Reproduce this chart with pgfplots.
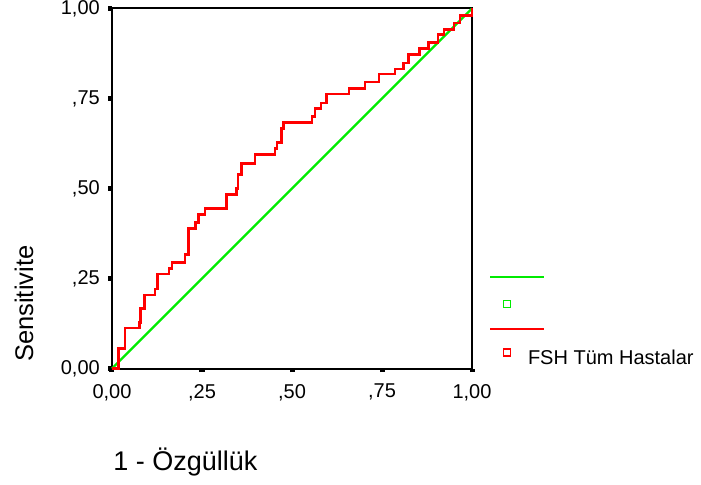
\documentclass[border=0pt]{standalone}
\usepackage{fontspec}
\setmainfont{Liberation Sans}
\usepackage{pgfplots}
\pgfplotsset{compat=1.18}
\usepackage{pgfplotstable}

\definecolor{refgreen}{RGB}{0,235,0}
\definecolor{rocred}{RGB}{255,0,0}

% ROC curve: 1 - specificity vs. sensitivity (corners of the staircase)
\pgfplotstableread{
fpr   tpr
0.000 0.000
0.018 0.056
0.036 0.112
0.076 0.127
0.079 0.167
0.091 0.204
0.119 0.221
0.126 0.262
0.158 0.278
0.167 0.295
0.203 0.317
0.212 0.389
0.232 0.405
0.241 0.428
0.258 0.445
0.318 0.484
0.346 0.500
0.350 0.539
0.360 0.570
0.397 0.595
0.453 0.611
0.458 0.628
0.471 0.667
0.476 0.684
0.555 0.700
0.564 0.723
0.580 0.738
0.596 0.762
0.658 0.778
0.703 0.796
0.742 0.818
0.786 0.832
0.809 0.849
0.823 0.873
0.854 0.889
0.879 0.905
0.906 0.928
0.922 0.942
0.950 0.960
0.967 0.981
1.000 1.000
}\roctable

% reference diagonal
\pgfplotstableread{
fpr tpr
0 0
1 1
}\diagtable

\begin{document}
\begin{tikzpicture}
\begin{axis}[
  at={(0,0)}, anchor=south west,
  scale only axis, width=360bp, height=360bp,
  xmin=0, xmax=1, ymin=0, ymax=1,
  clip=false,
  axis line style={line width=2bp, black},
  xtick={0,0.25,0.5,0.75,1},
  ytick={0,0.25,0.5,0.75,1},
  xticklabels={{0,00},{,25},{,50},{,75},{1,00}},
  yticklabels={{0,00},{,25},{,50},{,75},{1,00}},
  tick pos=left,
  tick align=outside,
  major tick length=3.5bp,
  tick style={line width=5bp, black},
  tick label style={font=\fontsize{20bp}{24bp}\selectfont, inner sep=0pt},
  xticklabel style={yshift=-12bp},
  yticklabel style={xshift=-8.5bp},
  xlabel={1 - Özgüllük},
  ylabel={Sensitivite},
  xlabel style={at={(axis description cs:0.003,-0.282)}, anchor=base west,
    inner sep=0pt, font=\fontsize{27bp}{32bp}\selectfont},
  ylabel style={at={(axis description cs:-0.2194,0.018)}, anchor=base west,
    inner sep=0pt, font=\fontsize{25.5bp}{30bp}\selectfont},
  legend cell align=left,
  legend style={at={(axis description cs:1,0)}, anchor=south west,
    xshift=18bp, yshift=0.2bp, draw=none, fill=none,
    inner sep=0pt, outer sep=0pt, row sep=5.8bp, column sep=8bp,
    font=\fontsize{20bp}{24bp}\selectfont,
    nodes={inner sep=0pt, text height=14bp, text depth=4bp}},
]
\addplot[refgreen, line width=2.2bp, forget plot] table[x=fpr, y=tpr] {\diagtable};
\addplot[rocred, line width=2.6bp, const plot, forget plot] table[x=fpr, y=tpr] {\roctable};

\addlegendimage{legend image code/.code={
  \draw[draw=refgreen, line width=2bp, overlay] (0bp,7.2bp) -- (54bp,7.2bp);
  \path[draw=none, fill=none] (0bp,-4bp) rectangle (30bp,10bp);}}
\addlegendentry{}
\addlegendimage{legend image code/.code={
  \draw[draw=refgreen, fill=none, line width=1.4bp] (13.5bp,0.9bp) rectangle (20.5bp,7.9bp);
  \path[draw=none, fill=none] (0bp,-4bp) rectangle (30bp,10bp);}}
\addlegendentry{}
\addlegendimage{legend image code/.code={
  \draw[draw=rocred, line width=2bp, overlay] (0bp,4.2bp) -- (54bp,4.2bp);
  \path[draw=none, fill=none] (0bp,-4bp) rectangle (30bp,10bp);}}
\addlegendentry{}
\addlegendimage{legend image code/.code={
  \draw[draw=rocred, fill=none, line width=1.4bp] (13.5bp,3.5bp) rectangle (20.5bp,10.5bp);
  \path[draw=none, fill=none] (0bp,-4bp) rectangle (30bp,10bp);}}
\addlegendentry{FSH Tüm Hastalar}
\end{axis}
\pgfresetboundingbox
\path (-112bp,-116.5bp) rectangle (589bp,368.5bp);
\end{tikzpicture}
\end{document}
